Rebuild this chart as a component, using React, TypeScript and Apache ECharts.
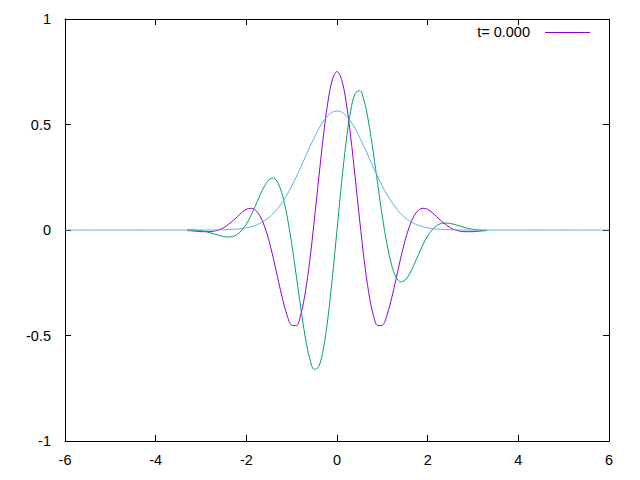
import React, { useEffect, useRef } from "react";
import * as echarts from "echarts";

const xs = [
  -3.3, -3.2, -3.1, -3.0, -2.9, -2.8, -2.7, -2.6, -2.5, -2.4, -2.3, -2.2, -2.1, -2.0, -1.9, -1.8, -1.7,
  -1.6, -1.5, -1.4, -1.3, -1.2, -1.1, -1.0, -0.9, -0.8, -0.7, -0.6, -0.5, -0.4, -0.3, -0.2, -0.1, 0.0,
  0.1, 0.2, 0.3, 0.4, 0.5, 0.6, 0.7, 0.8, 0.9, 1.0, 1.1, 1.2, 1.3, 1.4, 1.5, 1.6, 1.7, 1.8, 1.9, 2.0,
  2.1, 2.2, 2.3, 2.4, 2.5, 2.6, 2.7, 2.8, 2.9, 3.0, 3.1, 3.2, 3.3,
];

const realPart = [
  -0.003, -0.004, -0.006, -0.008, -0.008, -0.008, -0.005, 0.001, 0.011, 0.026, 0.043, 0.063, 0.083,
  0.098, 0.103, 0.094, 0.067, 0.018, -0.051, -0.138, -0.234, -0.328, -0.405, -0.451, -0.453, -0.402,
  -0.297, -0.143, 0.047, 0.251, 0.446, 0.608, 0.714, 0.751, 0.714, 0.608, 0.446, 0.251, 0.047, -0.143,
  -0.297, -0.402, -0.453, -0.451, -0.405, -0.328, -0.234, -0.138, -0.051, 0.018, 0.067, 0.094, 0.103,
  0.098, 0.083, 0.063, 0.043, 0.026, 0.011, 0.001, -0.005, -0.008, -0.008, -0.008, -0.006, -0.004, -0.003,
];

const imagPart = [
  0.001, 0.001, -0.001, -0.003, -0.007, -0.013, -0.019, -0.026, -0.031, -0.033, -0.031, -0.021, -0.001,
  0.028, 0.068, 0.115, 0.164, 0.208, 0.238, 0.246, 0.222, 0.162, 0.065, -0.064, -0.214, -0.368, -0.507,
  -0.611, -0.661, -0.646, -0.563, -0.416, -0.221, 0.0, 0.221, 0.416, 0.563, 0.646, 0.661, 0.611, 0.507,
  0.368, 0.214, 0.064, -0.065, -0.162, -0.222, -0.246, -0.238, -0.208, -0.164, -0.115, -0.068, -0.028,
  0.001, 0.021, 0.031, 0.033, 0.031, 0.026, 0.019, 0.013, 0.007, 0.003, 0.001, -0.001, -0.001,
];

const densityXs = [-6.0, ...xs, 6.0];
const density = [
  0.0, 0.0, 0.0, 0.0, 0.0, 0.0, 0.0, 0.0, 0.001, 0.001, 0.002, 0.003, 0.004, 0.007, 0.010, 0.015,
  0.022, 0.031, 0.044, 0.059, 0.079, 0.104, 0.134, 0.168, 0.208, 0.251, 0.297, 0.346, 0.394, 0.439,
  0.481, 0.516, 0.542, 0.559, 0.564, 0.559, 0.542, 0.516, 0.481, 0.439, 0.394, 0.346, 0.297, 0.251,
  0.208, 0.168, 0.134, 0.104, 0.079, 0.059, 0.044, 0.031, 0.022, 0.015, 0.010, 0.007, 0.004, 0.003,
  0.002, 0.001, 0.001, 0.0, 0.0, 0.0, 0.0, 0.0, 0.0, 0.0, 0.0,
];

const xTicks = { min: -6, max: 6, interval: 2 };
const yTicks = { min: -1, max: 1, interval: 0.5 };
const legendLabel = "t= 0.000";

const FONT = "Liberation Sans, Arial, sans-serif";
const FS = 14.5;

export default function App() {
  const ref = useRef<HTMLDivElement>(null);

  useEffect(() => {
    if (!ref.current) return;
    const chart = echarts.init(ref.current, undefined, { renderer: "svg" });

    const zip = (a: number[], b: number[]) => a.map((v, i) => [v, b[i]]);

    const axisCommon = {
      type: "value" as const,
      axisLine: { show: true, onZero: false, lineStyle: { color: "#000", width: 1 } },
      axisTick: { show: true, inside: true, length: 6, lineStyle: { color: "#000", width: 1 } },
      splitLine: { show: false },
    };

    const lineSeries = (name: string, data: number[][], color: string) => ({
      name,
      type: "line",
      data,
      showSymbol: false,
      symbol: "none",
      smooth: 0.35,
      lineStyle: { color, width: 1 },
      itemStyle: { color },
    });

    chart.setOption({
      animation: false,
      backgroundColor: "#fff",
      grid: { left: 65, right: 31, top: 19, bottom: 39, containLabel: false },
      xAxis: [
        {
          ...axisCommon,
          position: "bottom",
          ...xTicks,
          axisLabel: { color: "#000", fontFamily: FONT, fontSize: FS, margin: 11 },
        },
        {
          ...axisCommon,
          position: "top",
          ...xTicks,
          axisLabel: { show: false },
        },
      ],
      yAxis: [
        {
          ...axisCommon,
          position: "left",
          ...yTicks,
          axisLabel: { color: "#000", fontFamily: FONT, fontSize: FS, margin: 14 },
        },
        {
          ...axisCommon,
          position: "right",
          ...yTicks,
          axisLabel: { show: false },
        },
      ],
      series: [
        lineSeries(legendLabel, zip(xs, realPart), "#9400d3"),
        lineSeries("imag", zip(xs, imagPart), "#009e73"),
        lineSeries("density", zip(densityXs, density), "#56b4e9"),
      ],
      graphic: [
        {
          type: "text",
          x: 530,
          y: 32,
          style: {
            text: legendLabel,
            fill: "#000",
            font: `${FS}px ${FONT}`,
            textAlign: "right",
            textVerticalAlign: "middle",
          },
        },
        {
          type: "line",
          shape: { x1: 545, y1: 32.5, x2: 590, y2: 32.5 },
          style: { stroke: "#9400d3", lineWidth: 1 },
        },
      ],
    });

    return () => chart.dispose();
  }, []);

  return (
    <div
      ref={ref}
      style={{ position: "absolute", left: 0, top: 0, width: 640, height: 480 }}
    />
  );
}
